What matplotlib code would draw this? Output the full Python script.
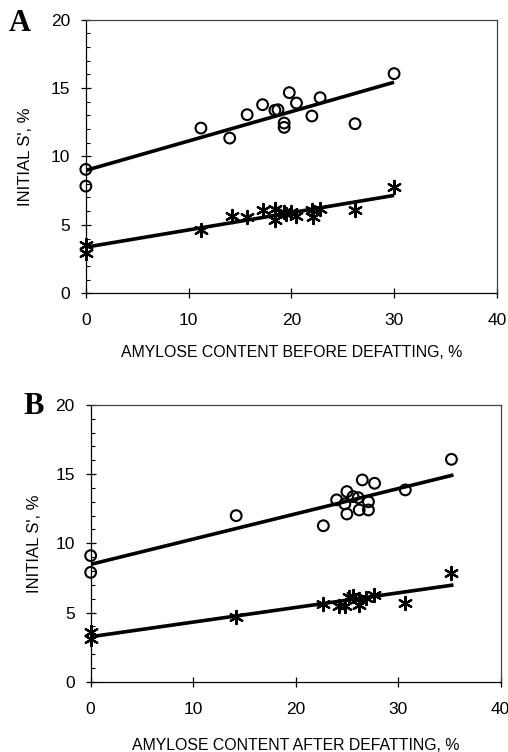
import matplotlib
matplotlib.use("Agg")
import matplotlib.pyplot as plt
import numpy as np
from matplotlib.ticker import MultipleLocator

plt.rcParams['font.family'] = ['Liberation Sans', 'DejaVu Sans']

# Panel A: amylose before defatting
a_circ_x = [0, 0, 11.2, 14.0, 15.7, 17.2, 18.4, 18.7, 19.3, 19.3, 19.8, 20.5, 22.0, 22.8, 26.2, 30.0]
a_circ_y = [9.05, 7.83, 12.07, 11.34, 13.05, 13.78, 13.37, 13.41, 12.44, 12.12, 14.66, 13.9, 12.95, 14.29, 12.39, 16.05]
a_star_x = [0, 0, 11.2, 14.2, 15.7, 17.2, 18.4, 18.4, 19.3, 19.5, 20.0, 20.5, 22.0, 22.1, 22.8, 26.2, 30.0]
a_star_y = [3.54, 2.95, 4.59, 5.61, 5.56, 6.05, 6.17, 5.37, 5.93, 5.76, 5.93, 5.68, 6.05, 5.56, 6.17, 6.05, 7.76]
a_circ_fit_x = [0, 30]
a_circ_fit_y = [8.98, 15.42]
a_star_fit_x = [0, 30]
a_star_fit_y = [3.37, 7.15]

# Panel B: amylose after defatting
b_circ_x = [0, 0, 14.2, 22.7, 24.0, 24.8, 25.0, 25.0, 25.6, 26.1, 26.2, 26.5, 27.1, 27.1, 27.7, 30.7, 35.2]
b_circ_y = [9.11, 7.90, 12.0, 11.27, 13.14, 12.85, 13.74, 12.12, 13.38, 13.3, 12.41, 14.58, 13.0, 12.41, 14.34, 13.86, 16.07]
b_star_x = [0, 0, 14.2, 22.7, 24.2, 24.8, 25.2, 25.6, 26.2, 26.2, 26.9, 27.6, 30.7, 35.2]
b_star_y = [3.61, 3.06, 4.65, 5.64, 5.47, 5.47, 6.15, 6.2, 5.55, 6.0, 6.03, 6.27, 5.71, 7.84]
b_circ_fit_x = [0, 35.4]
b_circ_fit_y = [8.48, 14.94]
b_star_fit_x = [0, 35.4]
b_star_fit_y = [3.25, 6.99]

xticks = [0, 10, 20, 30, 40]
yticks = [0, 5, 10, 15, 20]

fig = plt.figure(figsize=(5.08, 7.52), dpi=100)
axA = fig.add_axes([0.169, 0.610, 0.809, 0.364])
axB = fig.add_axes([0.1785, 0.0935, 0.807, 0.368])

star = (6, 2, 0)

def draw(ax, cx, cy, sx, sy, cfx, cfy, sfx, sfy, xlabel, letter, ylab_x, xlab_y, let_xy):
    ax.plot(cfx, cfy, color='black', lw=2.6, solid_capstyle='butt', zorder=2)
    ax.plot(sfx, sfy, color='black', lw=2.6, solid_capstyle='butt', zorder=2)
    ax.scatter(cx, cy, s=60, facecolors='none', edgecolors='black', linewidths=1.5, zorder=3, clip_on=False)
    ax.scatter(sx, sy, s=90, marker=star, color='black', linewidths=1.6, zorder=3, clip_on=False)
    ax.set_xlim(0, 40)
    ax.set_ylim(0, 20)
    ax.set_xticks(xticks)
    ax.set_yticks(yticks)
    ax.yaxis.set_minor_locator(MultipleLocator(1))
    ax.tick_params(axis='y', which='major', direction='inout', length=7, width=0.9, labelsize=12.5, pad=8)
    ax.tick_params(axis='y', which='minor', direction='in', length=3, width=0.8)
    ax.tick_params(axis='x', which='major', direction='inout', length=7, width=0.9, labelsize=12.5, pad=11)
    for sp in ['left', 'bottom']:
        ax.spines[sp].set_linewidth(0.9)
        ax.spines[sp].set_color('black')
    for sp in ['top', 'right']:
        ax.spines[sp].set_linewidth(0.9)
        ax.spines[sp].set_color('#444444')
    ax.set_xlabel(xlabel, fontsize=11.4)
    ax.xaxis.set_label_coords(0.5, xlab_y)
    ax.xaxis.label.set_va('center')
    ax.set_ylabel("INITIAL S', %", fontsize=12)
    ax.yaxis.set_label_coords(ylab_x, 0.5)
    ax.yaxis.label.set_va('center')
    ax.text(let_xy[0], let_xy[1], letter, transform=ax.transAxes, fontsize=22, fontweight='bold',
            family=['Liberation Serif', 'DejaVu Serif'], ha='center', va='center')

draw(axA, a_circ_x, a_circ_y, a_star_x, a_star_y, a_circ_fit_x, a_circ_fit_y,
     a_star_fit_x, a_star_fit_y, "AMYLOSE CONTENT BEFORE DEFATTING, %", "A",
     -0.148, -0.215, (-0.16, 0.985))
draw(axB, b_circ_x, b_circ_y, b_star_x, b_star_y, b_circ_fit_x, b_circ_fit_y,
     b_star_fit_x, b_star_fit_y, "AMYLOSE CONTENT AFTER DEFATTING, %", "B",
     -0.136, -0.229, (-0.14, 0.993))

fig.savefig("out.png", dpi=100)
